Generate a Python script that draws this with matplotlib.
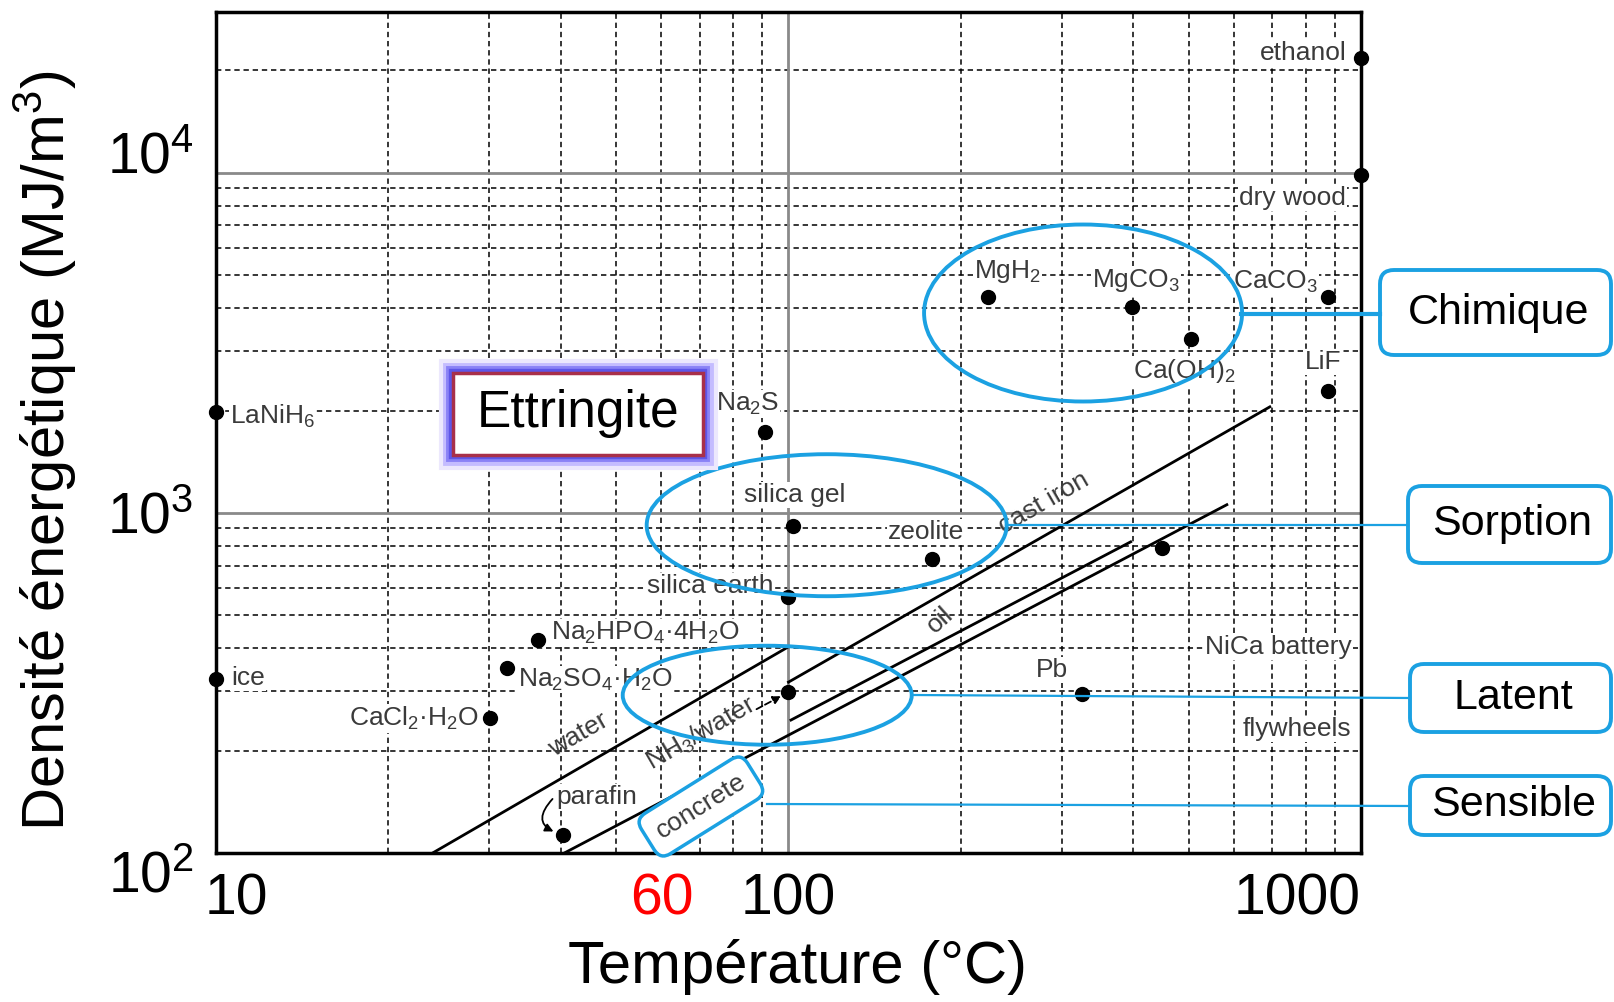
import numpy as np
import matplotlib
matplotlib.use("Agg")
import matplotlib.pyplot as plt
import matplotlib.patheffects as pe
from matplotlib.patches import Ellipse, FancyBboxPatch
from matplotlib.lines import Line2D
from matplotlib.ticker import LogLocator, NullFormatter
from matplotlib.transforms import ScaledTranslation, IdentityTransform

plt.rcParams['font.family'] = ['Liberation Sans', 'DejaVu Sans']
plt.rcParams['mathtext.default'] = 'regular'

W, H = 1615, 1002
BLUE = '#1ba1e2'
GREY_TXT = '#3a3a3a'
SMALL = ['Liberation Sans Narrow', 'Liberation Sans', 'DejaVu Sans']

# storage materials: temperature (°C) and energy density (MJ/m3)
point_names = ['ethanol', 'dry wood', 'CaCO$_3$', 'LiF', 'MgH$_2$', 'MgCO$_3$',
               'Ca(OH)$_2$', 'LaNiH$_6$', 'Na$_2$S', 'silica gel', 'zeolite',
               'silica earth', '', 'Na$_2$HPO$_4$·4H$_2$O', 'Na$_2$SO$_4$·H$_2$O',
               'ice', 'CaCl$_2$·H$_2$O', '', 'Pb', 'parafin']
point_temp = [1000, 1000, 875, 875, 223, 398, 505, 10, 91, 102, 178, 100,
              449, 36.5, 32.2, 10, 30.1, 100, 326, 40.3]
point_density = [21800, 9860, 4300, 2280, 4300, 4040, 3250, 1980, 1730, 914,
                 731, 565, 789, 424, 351, 325, 249, 297, 293, 113]

# sensible heat lines
water_temp, water_density = [23.9, 100], [100, 404]
castiron_temp, castiron_density = [100, 693], [318, 2050]
concrete_temp, concrete_density = [40.6, 583], [100, 1057]
oil_temp, oil_density = [101, 396], [246, 822]

xtick_vals = [10, 60, 100, 1000]
xtick_labels = ['10', '60', '100', '1000']
ytick_vals = [100, 1000, 10000]
ytick_labels = ['$10^2$', '$10^3$', '$10^4$']

# label placement (offset in pixels, alignment)
label_offsets = [(-14, 5, 'right'), (-15, -23, 'right'), (-10, 16, 'right'),
                 (-5, 29, 'center'), (-14, 26, 'left'), (4, 26, 'center'),
                 (-7, -32, 'center'), (14, -4, 'left'), (-17, 28, 'center'),
                 (1, 31, 'center'), (-6, 27, 'center'), (-15, 11, 'right'),
                 (0, 0, 'center'), (13, 7, 'left'), (11, -12, 'left'),
                 (15, 1, 'left'), (-11, 0, 'right'), (0, 0, 'center'),
                 (-30, 24, 'center'), (-6, 38, 'left')]


def fig_frac(x, y):
    # image pixel (top-left origin) -> figure fraction
    return x / W, 1 - y / H


fig = plt.figure(figsize=(W / 100, H / 100), dpi=100)
ax = fig.add_axes([216 / W, 1 - 853 / H, 1145 / W, 841 / H])
ax.set_xscale('log')
ax.set_yscale('log')
ax.set_xlim(10, 1000)
ax.set_ylim(100, 29700)

# ticks and grid
ax.set_xticks(xtick_vals, xtick_labels)
ax.set_yticks(ytick_vals, ytick_labels)
ax.xaxis.remove_overlapping_locs = False
ax.xaxis.set_minor_locator(LogLocator(10, subs=np.arange(2, 10)))
ax.yaxis.set_minor_locator(LogLocator(10, subs=np.arange(2, 10)))
ax.xaxis.set_minor_formatter(NullFormatter())
ax.yaxis.set_minor_formatter(NullFormatter())
ax.tick_params(which='both', length=0)
ax.tick_params(axis='x', pad=14, labelsize=41)
ax.tick_params(axis='y', pad=16, labelsize=41)
ax.grid(which='minor', color='k', ls=(0, (3.5, 2.5)), lw=1.1)
ax.set_axisbelow(True)
ax.axvline(100, color='#8a8a8a', lw=2, zorder=1)
for yv in [1000, 10000]:
    ax.axhline(yv, color='#8a8a8a', lw=2, zorder=1)
for s in ax.spines.values():
    s.set_linewidth(2.5)

xl = ax.get_xticklabels()
xl[0].set_transform(xl[0].get_transform() + ScaledTranslation(0.2, 0, fig.dpi_scale_trans))
xl[1].set_color('red')
xl[3].set_ha('right')
yl = ax.get_yticklabels()
for lbl, dy in zip(yl, [-0.19, 0, 0.21]):
    lbl.set_transform(lbl.get_transform() + ScaledTranslation(0, dy, fig.dpi_scale_trans))

ax.set_xlabel('Température (°C)', fontsize=43)
ax.xaxis.set_label_coords(0.508, -0.136)
ax.xaxis.label.set_va('center')
ax.set_ylabel('Densité énergétique (MJ/m$^3$)', fontsize=43)
ax.yaxis.set_label_coords(-0.149, 0.479)
ax.yaxis.label.set_va('center')

# lines
for t, d in [(water_temp, water_density), (castiron_temp, castiron_density),
             (concrete_temp, concrete_density), (oil_temp, oil_density)]:
    ax.plot(t, d, color='k', lw=2, zorder=3)

# points + labels
ax.plot(point_temp, point_density, 'o', color='k', ms=10, zorder=4, clip_on=False)
for name, t, d, (dx, dy, ha) in zip(point_names, point_temp, point_density, label_offsets):
    if not name:
        continue
    ax.annotate(name, (t, d), xytext=(dx, dy), textcoords='offset pixels',
                ha=ha, va='center', fontsize=19, family=SMALL, color=GREY_TXT,
                bbox=dict(fc='white', ec='none', pad=0.5), zorder=3.5)

# free labels
for txt, x, y in [('NiCa battery', 718, 404), ('flywheels', 773, 231)]:
    ax.text(x, y, txt, ha='center', va='center', fontsize=19, family=SMALL,
            color=GREY_TXT, bbox=dict(fc='white', ec='none', pad=0.5), zorder=3.5)
for txt, x, y, rot in [('water', 43, 223, 30), ('NH$_3$/water', 70.3, 225, 30),
                       ('cast iron', 279, 1072, 30), ('oil', 184, 484, 42)]:
    ax.text(x, y, txt, ha='center', va='center', rotation=rot,
            rotation_mode='anchor', fontsize=19, family=SMALL, color=GREY_TXT,
            zorder=3.5)

ax.text(70.3, 137, 'concrete', ha='center', va='center', rotation=32,
        rotation_mode='anchor', fontsize=19, family=SMALL, color=GREY_TXT,
        bbox=dict(boxstyle='round,pad=0.45', fc='white', ec=BLUE, lw=2.5), zorder=6)

# arrows
ax.annotate('', xy=(100, 297), xytext=(-32, -17), textcoords='offset pixels',
            arrowprops=dict(arrowstyle='-|>', ls='--', color='k', lw=1.3,
                            shrinkA=0, shrinkB=6, mutation_scale=12), zorder=4)
ax.annotate('', xy=(40.3, 113), xytext=(-10, 36), textcoords='offset pixels',
            arrowprops=dict(arrowstyle='-|>', color='k', lw=1.3,
                            connectionstyle='arc3,rad=0.8',
                            shrinkA=0, shrinkB=7, mutation_scale=12), zorder=4)

# category ellipses
data_to_axes = ax.transData + ax.transAxes.inverted()
for (cx, cy), (w, h) in zip([(327, 3870), (116.6, 920), (91.8, 291)],
                            [(318, 177), (360, 142), (289, 99)]):
    c = data_to_axes.transform((cx, cy))
    ax.add_patch(Ellipse(c, w / 1145, h / 841, transform=ax.transAxes,
                         fill=False, ec=BLUE, lw=2.8, zorder=5, clip_on=False))

# connectors to category boxes
for (x0, y0, x1, y1, lw) in [(1241, 314, 1380, 314, 3), (1006, 525, 1408, 525, 1.6),
                             (912, 695, 1410, 698, 1.6), (767, 804, 1410, 806, 1.6)]:
    a, b = fig_frac(x0, y0)
    c, d = fig_frac(x1, y1)
    fig.add_artist(Line2D([a, c], [b, d], color=BLUE, lw=lw, transform=fig.transFigure))

# category boxes
for txt, (x0, y0, x1, y1) in [('Chimique', (1380, 270, 1611, 355)),
                              ('Sorption', (1408, 486, 1611, 563)),
                              ('Latent', (1410, 664, 1611, 732)),
                              ('Sensible', (1410, 776, 1611, 835))]:
    fig.add_artist(FancyBboxPatch((x0, H - y1), x1 - x0, y1 - y0,
                                  boxstyle='round,pad=0,rounding_size=14',
                                  transform=IdentityTransform(), fc='white',
                                  ec=BLUE, lw=2.8))
    fx, fy = fig_frac((x0 + x1) / 2 + 3, (y0 + y1) / 2)
    fig.text(fx, fy, txt, ha='center', va='center', fontsize=31)

# Ettringite box with glow
bx0, by0, bx1, by1 = 453, 373, 703, 455
glow = FancyBboxPatch((bx0, H - by1), bx1 - bx0, by1 - by0, boxstyle='square,pad=0',
                      transform=IdentityTransform(), fc='white', ec='#a8304a', lw=2.5,
                      path_effects=[pe.Stroke(linewidth=21, foreground='#ece8fd'),
                                    pe.Stroke(linewidth=15, foreground='#c4bcff'),
                                    pe.Stroke(linewidth=10, foreground='#8a82f6'),
                                    pe.Stroke(linewidth=6, foreground='#5e56e8'),
                                    pe.Normal()])
fig.add_artist(glow)
fx, fy = fig_frac((bx0 + bx1) / 2, (by0 + by1) / 2)
fig.text(fx, fy, 'Ettringite', ha='center', va='center', fontsize=37)

fig.savefig('out.png', dpi=100)
